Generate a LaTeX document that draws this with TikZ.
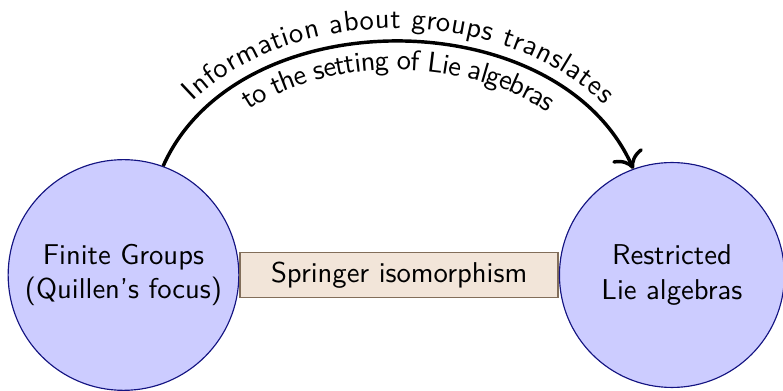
\documentclass[tikz,border=0pt]{standalone}
\usetikzlibrary{positioning,decorations.text,arrows.meta}

\tikzset{every picture/.style={line width=0.75pt}}
\tikzset{
  area/.style={circle,draw={rgb,255:red,20;green,20;blue,130},fill=blue!20,line width=0.4pt,
    minimum size=78.5pt,align=center,font=\sffamily},
  bridge/.style={rectangle,draw={rgb,255:red,130;green,110;blue,90},fill=brown!20,line width=0.5pt,
    minimum width=111pt,font=\sffamily},
  curvedtext/.style 2 args={postaction={decorate,decoration={text along path,
    text align=center,raise=#1,text={|\sffamily|#2}}}},
}

\begin{document}
\begin{tikzpicture}[x=0.349pt,y=0.349pt]
	%set diagram size to the reference
	\useasboundingbox (0,0) rectangle (783,391);
	
	%Shape: Circle [groups]
	\node[area] (groups) at (123.5,116) {Finite Groups\\(Quillen's focus)};
	%Shape: Rectangle [springer]
	\node[bridge,right=0pt of groups] (springer) {Springer isomorphism};
	%Shape: Circle [lie]
	\node[area,right=0pt of springer] (lie) {Restricted\\Lie algebras};
	
	%Curve with text
	\draw[line width=1.2pt,-{To[scale=1.3]},
		curvedtext={4.5pt}{Information about groups translates},
		curvedtext={-10pt}{to the setting of Lie algebras}]
		(groups.70) to[out=66,in=114] (lie.110);
\end{tikzpicture}
\end{document}
